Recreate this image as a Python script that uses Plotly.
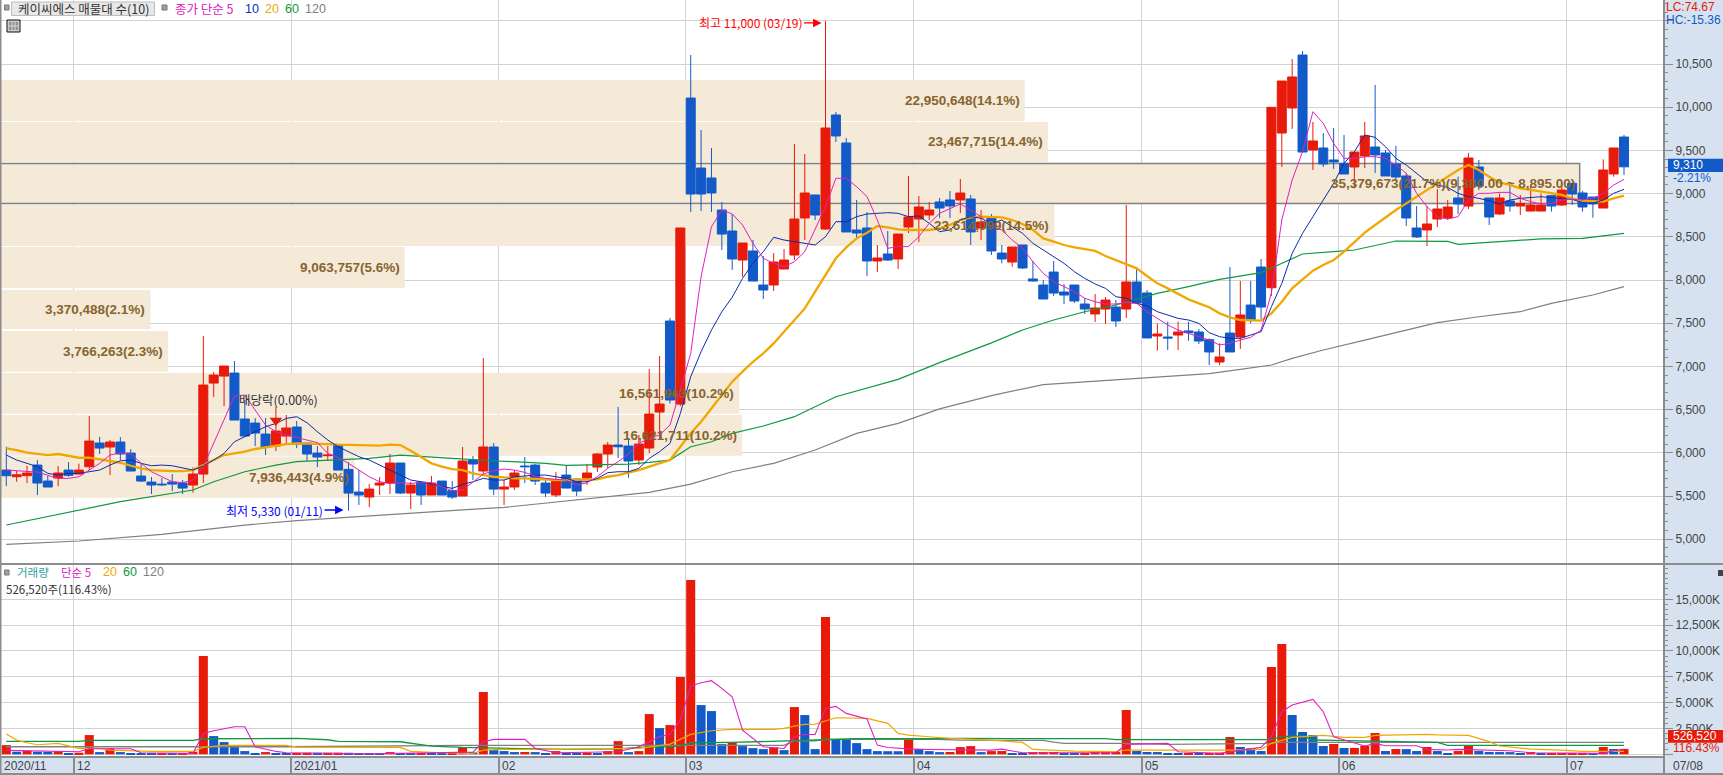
import plotly.graph_objects as go

W, H = 1723, 775
PLOT_R, PANE_SPLIT, PANE_BOTTOM = 1663, 564, 756

open_ = [5800,5723,5735,5858,5673,5708,5800,5754,5839,6113,
 6067,6125,5997,5731,5661,5638,5661,5650,5627,5754,
 6807,6888,6923,6391,6344,6217,6078,6194,6298,6113,
 5997,5966,6090,5808,5546,5488,5627,5650,5882,5534,
 5661,5511,5673,5561,5500,5916,5789,6067,5580,5604,
 5847,5858,5650,5511,5742,5696,5708,5835,5986,6090,
 6078,5916,6055,6472,7525,6564,10106,9296,9181,8810,
 8567,8231,8336,7942,7942,8127,8289,8718,8984,8590,
 9910,9586,8579,8602,8220,8301,8243,8613,8706,8752,
 8903,8926,8926,8938,8602,8729,8312,8208,8405,8012,
 7942,8092,7861,7942,7722,7607,7664,7687,7664,7977,
 7850,7352,7340,7363,7410,7398,7309,7051,7386,7340,
 7710,8150,7911,9701,9991,10604,9505,9528,9389,9350,
 9308,9435,9539,9470,9343,9204,8602,8579,8706,8718,
 8949,8856,9308,8949,8764,8914,8856,8798,8798,8976,
 8868,9119,9007,8960,8833,9227,9655]
high = [6070,5790,5850,5916,5731,5847,5893,5874,6425,6186,
 6148,6182,6044,5870,5719,5708,5754,5685,5831,7351,
 6935,7004,7062,6611,6402,6402,6530,6437,6368,6113,
 6078,6078,6101,5889,5800,5638,5719,5986,5882,5661,
 5661,5731,5673,5673,6067,5962,7097,6113,5685,5800,
 5951,5870,5696,5777,5858,5696,5870,5997,6125,6530,
 6171,6206,6970,7120,7560,8602,10604,9736,9528,8903,
 8764,8428,8463,8278,8312,8359,9574,9458,8984,11000,
 9944,9644,8926,8787,8405,8567,8532,9204,8972,8903,
 8949,9030,9169,8984,8810,8764,8405,8382,8405,8220,
 8000,8220,7953,7942,7792,7838,7803,7768,8868,8150,
 7884,7498,7518,7518,7518,7433,7325,7267,8150,7988,
 7988,8243,9998,10303,10558,10650,9829,9701,9759,9678,
 9481,9829,10257,9505,9551,9235,8856,8856,9053,8926,
 9196,9470,9389,8949,9003,9100,8984,9100,9003,8976,
 9119,9119,9030,8960,9396,9528,9680]
low = [5615,5665,5650,5511,5604,5615,5723,5754,5800,5986,
 5742,5916,5789,5661,5523,5615,5557,5523,5538,5650,
 6645,6541,6379,6194,6078,5974,6020,6090,6055,5905,
 5835,5905,5800,5330,5396,5372,5511,5523,5523,5349,
 5396,5511,5511,5465,5500,5685,5742,5511,5396,5569,
 5650,5627,5488,5488,5592,5500,5627,5777,5823,5940,
 5712,5858,5997,6148,6572,6541,8787,8799,8787,8347,
 8116,8038,7988,7780,7873,8127,8231,8463,8694,8579,
 9597,8556,8486,8046,8093,8220,8127,8544,8440,8694,
 8718,8718,8775,8405,8463,8289,8193,8154,8127,7980,
 7780,7815,7722,7734,7606,7514,7491,7456,7560,7722,
 7329,7182,7190,7190,7298,7259,7016,7016,7167,7201,
 7498,7549,7815,9308,9748,9481,9273,9308,9285,9227,
 9061,9296,9238,9204,9157,8625,8486,8393,8613,8694,
 8764,8822,9042,8636,8752,8791,8752,8798,8798,8791,
 8856,8868,8791,8721,8833,9196,9215]
close = [5735,5746,5766,5650,5604,5766,5739,5800,6136,6055,
 6125,5986,5789,5673,5627,5630,5638,5592,5754,6784,
 6900,7004,6379,6194,6229,6063,6252,6287,6101,5986,
 5951,5974,5800,5534,5511,5580,5650,5882,5534,5627,
 5511,5650,5511,5488,5905,5870,6067,5580,5604,5766,
 5839,5673,5534,5673,5592,5557,5766,5986,6090,6070,
 5905,6101,6448,6564,6611,8602,8995,8995,9007,8532,
 8243,8428,7988,7884,8208,8231,8706,9007,8752,9759,
 9667,8556,8544,8220,8255,8231,8532,8729,8845,8810,
 8833,8857,9007,8556,8671,8336,8243,8382,8139,7988,
 7780,7849,7826,7757,7664,7676,7768,7526,7977,7734,
 7329,7375,7329,7398,7390,7294,7167,7109,7167,7595,
 7537,7687,9998,10303,10350,9481,9609,9343,9366,9227,
 9481,9667,9447,9204,9192,8718,8498,8648,8822,8845,
 8880,9412,9088,8729,8949,8856,8887,8868,8868,8856,
 9041,8995,8845,8880,9273,9528,9310]

ma5 = [5800,5790,5780,5777,5740,5704,5704,5723,5800,5878,
 5974,6001,5993,5878,5781,5723,5665,5654,5685,5839,
 6109,6379,6657,6668,6495,6321,6244,6206,6178,6148,
 6117,5993,5947,5878,5800,5723,5665,5646,5654,5646,
 5654,5654,5608,5561,5569,5665,5754,5793,5812,5800,
 5773,5731,5704,5692,5685,5627,5654,5723,5820,5897,
 5986,6109,6167,6206,6321,6727,7151,8038,8617,8810,
 8764,8637,8424,8251,8193,8154,8212,8328,8579,8849,
 9177,9177,9080,8965,8695,8367,8386,8386,8502,8656,
 8772,8829,8880,8810,8733,8617,8579,8463,8367,8212,
 8077,7981,7923,7865,7788,7749,7722,7722,7738,7730,
 7633,7556,7479,7421,7383,7344,7305,7248,7267,7305,
 7336,7421,7850,8695,9157,9485,9948,9813,9582,9408,
 9408,9427,9427,9408,9331,9235,9003,8849,8733,8706,
 8733,8926,9003,9003,9014,9014,8945,8907,8880,8887,
 8926,8934,8926,8945,9003,9099,9165]
ma10 = [5974,5916,5878,5839,5762,5742,5762,5762,5781,5800,
 5858,5908,5916,5878,5850,5858,5850,5827,5800,5850,
 5916,5993,6128,6186,6244,6302,6340,6398,6418,6348,
 6244,6148,6070,6013,5955,5916,5858,5800,5742,5685,
 5665,5638,5615,5588,5635,5665,5704,5685,5685,5723,
 5731,5742,5742,5723,5704,5665,5665,5704,5770,5781,
 5781,5820,5935,6013,6109,6456,6881,7170,7421,7633,
 7800,8019,8193,8328,8494,8463,8444,8424,8405,8502,
 8675,8675,8733,8764,8772,8779,8772,8733,8741,8656,
 8559,8579,8695,8733,8714,8656,8694,8617,8540,8424,
 8347,8270,8193,8096,8019,7954,7903,7807,7788,7730,
 7699,7633,7595,7556,7537,7498,7390,7344,7325,7325,
 7363,7402,7691,7961,8308,8540,8733,8926,9119,9350,
 9485,9678,9651,9543,9408,9331,9234,9138,9100,9072,
 9003,8964,8945,8918,8880,8926,8945,8957,8964,8953,
 8945,8934,8895,8887,8926,9003,9049]
ma20 = [6051,6032,6001,5986,5974,5986,5963,5943,5943,5924,
 5905,5885,5850,5820,5800,5793,5789,5789,5800,5858,
 5916,5974,5993,6013,6044,6063,6090,6101,6109,6109,
 6101,6101,6094,6090,6090,6082,6082,6094,6090,6024,
 5955,5878,5839,5812,5800,5762,5742,5723,5716,5704,
 5704,5696,5692,5685,5685,5685,5685,5692,5723,5742,
 5770,5800,5839,5878,5916,6070,6225,6360,6514,6668,
 6823,6939,7054,7151,7266,7401,7536,7671,7865,8058,
 8251,8378,8482,8548,8625,8610,8586,8579,8579,8579,
 8598,8637,8695,8725,8733,8733,8725,8694,8648,8579,
 8482,8444,8405,8378,8355,8336,8278,8231,8185,8135,
 8046,7961,7903,7838,7776,7730,7684,7614,7568,7537,
 7529,7529,7614,7749,7903,8000,8108,8174,8231,8328,
 8444,8548,8636,8725,8810,8887,8964,9042,9119,9196,
 9273,9331,9273,9196,9126,9100,9061,9042,9022,9003,
 8984,8945,8914,8914,8907,8945,8976]
ma60_idx = [0,7,11,18,20,23,26,28,32,35,38,41,43,47,52,54,56,60,62,64,66,68,70,73,76,78,80,86,90,95,98,101,104,107,111,114,117,121,123,125,128,130,134,139,140,144,148,152,156]
ma60 = [5164,5338,5434,5569,5665,5781,5858,5897,5916,5935,5974,5955,5935,5908,5878,5854,5858,5870,5889,5916,6070,6128,6225,6310,6418,6534,6649,6850,7044,7272,7421,7537,7633,7711,7846,7923,8008,8085,8193,8301,8328,8347,8451,8447,8413,8440,8475,8482,8540]
ma120_idx = [0,7,15,23,28,35,44,48,55,62,66,70,74,78,82,86,90,95,100,105,111,116,119,122,124,127,131,135,138,142,146,149,153,156]
ma120 = [4941,4979,5057,5164,5215,5272,5340,5368,5453,5542,5638,5781,5878,6032,6225,6340,6509,6662,6789,6830,6878,6917,6966,7016,7093,7190,7305,7421,7506,7575,7633,7730,7826,7923]

volume = [890,245,343,245,240,310,117,150,1860,213,
 570,213,125,120,115,125,60,85,245,9514,
 1764,1182,730,310,117,213,117,110,150,155,
 150,155,160,150,60,55,50,213,60,55,
 60,55,50,55,665,213,6030,407,310,213,
 220,213,117,310,147,145,180,115,308,1277,
 211,308,3893,2537,2828,7479,16870,4765,4184,986,
 1180,793,599,502,663,405,4572,3797,502,13289,
 1471,1465,1083,502,308,300,295,1471,502,308,
 211,220,696,793,211,308,315,115,110,211,
 215,220,82,80,85,211,215,220,4285,315,
 220,215,125,120,125,85,90,150,1672,704,
 575,315,8448,10675,3802,2156,1866,801,995,607,
 620,830,2060,315,510,500,315,704,315,120,
 315,801,315,220,215,210,120,220,100,110,
 115,120,125,110,704,510,526.5]
vol5_idx = [0,7,8,12,13,18,19,20,22,23,24,26,27,35,45,46,47,50,51,53,59,61,63,64,65,66,67,68,69,70,71,72,73,74,75,76,77,78,79,80,81,83,84,85,87,89,95,96,97,98,107,108,112,113,117,121,122,123,124,126,127,128,131,132,133,136,137,139,140,145,147,154,155,156]
vol5 = [375,245,537,537,150,85,2022,2280,2668,2668,730,278,150,52,213,1215,1440,1440,570,150,244,728,1697,1955,3312,6607,6930,7124,6380,5573,2343,1535,728,631,566,1697,1923,1923,4443,4636,3958,3409,890,663,520,470,405,502,308,146,155,962,1059,253,90,671,1704,4125,4770,5318,4125,1704,801,1059,833,833,478,413,478,349,155,90,349,478]
vol20_idx = [0,1,2,3,5,6,7,9,10,14,18,19,21,27,28,38,39,42,45,46,48,52,59,61,64,65,66,68,70,74,75,76,77,78,80,83,85,86,87,89,91,95,97,98,99,103,107,108,118,121,122,124,127,129,131,132,137,138,141,143,144,147,150,152,156]
vol20 = [1957,1376,1118,924,1053,795,570,570,407,278,278,665,859,859,700,665,278,150,85,407,472,472,502,566,986,1439,1923,2278,2408,2408,2504,2731,2892,2924,3538,3474,2989,2020,1859,1697,1535,1374,1212,1148,470,315,253,413,413,478,1059,1640,1834,1640,1640,1834,1931,1880,1834,1220,801,510,413,285,285]
vol60_idx = [0,7,8,18,19,28,31,32,38,40,41,44,51,54,59,61,65,66,70,82,89,92,106,107,122,123,125,126,128,136,138,139,153,154,156]
vol60 = [1247,1247,1344,1344,1505,1538,1408,1247,1214,892,795,665,536,470,534,663,792,1116,1148,1503,1503,1535,1510,1414,1414,1704,1769,1382,1350,1156,1156,866,833,801,866]
vol120_idx = [0,27,44,53,75,76,78,79,89,92,100,101,102,108,112,122,123,156]
vol120 = [730,730,860,860,857,1309,1309,1439,1471,1374,1342,1180,1059,1051,962,1059,1156,1156]

profile_volume = [22950648,23467715,35379673,23614099,9063757,3370488,3766263,16561963,16621711,7936443]
profile_high = [10315,9829,9347,8868,8382,7884,7410,6924,6438,5957]
profile_low = [9840,9366,8885,8394,7907,7433,6939,6453,5967,5480]
profile_labels = ["22,950,648(14.1%)","23,467,715(14.4%)","35,379,673(21.7%)(9,380.00 ~ 8,895.00)","23,614,099(14.5%)","9,063,757(5.6%)","3,370,488(2.1%)","3,766,263(2.3%)","16,561,963(10.2%)","16,621,711(10.2%)","7,936,443(4.9%)"]
current_band = 2

month_start = [7,28,48,66,88,110,129,151]
month_labels = ["12","2021/01","02","03","04","05","06","07"]
price_ticks = [5000,5500,6000,6500,7000,7500,8000,8500,9000,9500,10000,10500,11000]
price_ticktext = ["5,000","5,500","6,000","6,500","7,000","7,500","8,000","8,500","9,000","9,500","10,000","10,500",""]
vol_ticks = [0,2500,5000,7500,10000,12500,15000]
vol_ticktext = ["","2,500K","5,000K","7,500K","10,000K","12,500K","15,000K"]

RED, BLUE = "#e81a0a", "#125ac8"
MAGENTA, NAVY, ORANGE, GREEN, GREY = "#e020c0", "#0c2ca8", "#f0a800", "#0c9a40", "#808080"
BEIGE, BAND, GRID, AXIS = "#f5e9d8", "#d6e2f0", "#d2d2d2", "#8c8c8c"
TXT = "#444444"
LATIN = "Liberation Sans"
KR = "Noto Sans CJK KR"

n = len(close)
xs = list(range(n))
x_range = [-0.6075, 159.76]
grid_x = [m - 0.5 for m in month_start]

fig = go.Figure()

# volume profile on the base subplot
fig.add_trace(go.Bar(
    orientation="h", xaxis="x", yaxis="y",
    x=profile_volume,
    y=[(a + b) / 2 for a, b in zip(profile_high, profile_low)],
    width=[a - b for a, b in zip(profile_high, profile_low)],
    marker=dict(color=BEIGE,
                line=dict(color=[GREY if i == current_band else BEIGE for i in range(len(profile_volume))],
                          width=[1.5 if i == current_band else 0 for i in range(len(profile_volume))])),
    hoverinfo="skip"))

# moving averages under the candles
for xv, yv, c, w in [(ma120_idx, ma120, GREY, 1.2), (ma60_idx, ma60, GREEN, 1.2),
                     (xs, ma20, ORANGE, 2.3), (xs, ma10, NAVY, 1), (xs, ma5, MAGENTA, 1)]:
    fig.add_trace(go.Scatter(x=xv, y=yv, mode="lines", line=dict(color=c, width=w),
                             xaxis="x3", yaxis="y", hoverinfo="skip"))

fig.add_trace(go.Candlestick(
    x=xs, open=open_, high=high, low=low, close=close, xaxis="x3", yaxis="y",
    increasing=dict(line=dict(color=RED, width=1), fillcolor=RED),
    decreasing=dict(line=dict(color=BLUE, width=1), fillcolor=BLUE),
    whiskerwidth=0, hoverinfo="skip"))

# ex-dividend marker
fig.add_trace(go.Scatter(x=[26], y=[6375], mode="markers", xaxis="x3", yaxis="y",
                         marker=dict(symbol="triangle-down", color=RED, size=11), hoverinfo="skip"))

# volume pane
vol_colors = [RED if i == 0 or volume[i] >= volume[i - 1] else BLUE for i in range(n)]
fig.add_trace(go.Bar(x=xs, y=volume, width=0.87, marker=dict(color=vol_colors, line=dict(width=0)),
                     xaxis="x2", yaxis="y2", hoverinfo="skip"))
for xv, yv, c, w in [(vol120_idx, vol120, GREY, 1.3), (vol60_idx, vol60, GREEN, 1.3),
                     (vol20_idx, vol20, ORANGE, 1.2), (vol5_idx, vol5, MAGENTA, 1.1)]:
    fig.add_trace(go.Scatter(x=xv, y=yv, mode="lines", line=dict(color=c, width=w),
                             xaxis="x2", yaxis="y2", hoverinfo="skip"))


def px(x):
    return x / W


def py(y):
    return 1 - y / H


ann = []


def label(x, y, text, color=TXT, size=12, anchor="left", family=KR, bg=None):
    d = dict(x=px(x), y=py(y), xref="paper", yref="paper", text=text, showarrow=False,
             xanchor=anchor, yanchor="middle", font=dict(family=family, size=size, color=color),
             borderpad=0)
    if bg:
        d["bgcolor"] = bg
    ann.append(d)


# profile labels
for v, h_, l_, t in zip(profile_volume, profile_high, profile_low, profile_labels):
    ann.append(dict(x=v, y=(h_ + l_) / 2, xref="x", yref="y", text=t, showarrow=False,
                    xanchor="right", yanchor="middle", xshift=-3,
                    font=dict(family=LATIN, size=13.5, color="#86642f", weight="bold")))

# extreme labels
ann.append(dict(x=79, y=10975, xref="x3", yref="y", text="최고 11,000 (03/19)", showarrow=True,
                ax=-75, ay=0, axref="pixel", ayref="pixel", arrowcolor="#ff0000", arrowwidth=1.3,
                arrowhead=2, arrowsize=1.3, standoff=4,
                font=dict(family=KR, size=12, color="#ff0000")))
ann.append(dict(x=33, y=5338, xref="x3", yref="y", text="최저 5,330 (01/11)", showarrow=True,
                ax=-74, ay=0, axref="pixel", ayref="pixel", arrowcolor="#0000ff", arrowwidth=1.3,
                arrowhead=2, arrowsize=1.3, standoff=5,
                font=dict(family=KR, size=12, color="#0000ff")))
label(238, 399, "배당락(0.00%)", "#333333", 12.5)

# top legend
label(17, 9, "케이씨에스 매물대 수(10)", "#333333", 12.5)
label(174, 9, "종가 단순 5", MAGENTA, 12.5)
label(244, 9, "10", "#0c2cc0", 12.5, family=LATIN)
label(264, 9, "20", ORANGE, 12.5, family=LATIN)
label(284, 9, "60", GREEN, 12.5, family=LATIN)
label(304, 9, "120", GREY, 12.5, family=LATIN)

# volume legend
label(16, 572, "거래량", "#30a0a0", 11.5)
label(60, 572, "단순 5", MAGENTA, 11.5)
label(102, 572, "20", ORANGE, 12.5, family=LATIN)
label(122, 572, "60", GREEN, 12.5, family=LATIN)
label(142, 572, "120", GREY, 12.5, family=LATIN)
label(5, 589, "526,520주(116.43%)", "#333333", 11.5)

# right panel
label(1665, 7, "LC:74.67", "#e81a0a", 12, family=LATIN)
label(1665, 20, "HC:-15.36", BLUE, 12, family=LATIN)
label(1672, 165, "9,310", "#ffffff", 12, family=LATIN)
label(1672, 178, "-2.21%", BLUE, 12, family=LATIN)
label(1672, 736, "526,520", "#ffffff", 12, family=LATIN)
label(1672, 748, "116.43%", RED, 12, family=LATIN)

# month labels
ann.append(dict(x=x_range[0], y=py(765.5), xref="x2", yref="paper", text="2020/11", showarrow=False,
                xanchor="left", yanchor="middle", xshift=2, font=dict(family=LATIN, size=12, color=TXT)))
for m, t in zip(grid_x, month_labels):
    ann.append(dict(x=m, y=py(765.5), xref="x2", yref="paper", text=t, showarrow=False,
                    xanchor="left", yanchor="middle", xshift=1, font=dict(family=LATIN, size=12, color=TXT)))
label(1672, 765.5, "07/08", TXT, 12, family=LATIN)

shapes = []


def rect(x0, y0, x1, y1, fill=None, line=None, lw=1):
    shapes.append(dict(type="rect", xref="paper", yref="paper", x0=px(x0), x1=px(x1), y0=py(y0), y1=py(y1),
                       fillcolor=fill, line=dict(color=line or "rgba(0,0,0,0)", width=lw if line else 0),
                       layer="above"))


def hline(x0, x1, y, color=AXIS, w=2):
    shapes.append(dict(type="line", xref="paper", yref="paper", x0=px(x0), x1=px(x1), y0=py(y), y1=py(y),
                       line=dict(color=color, width=w), layer="above"))


def vline(x, y0, y1, color=AXIS, w=2):
    shapes.append(dict(type="line", xref="paper", yref="paper", x0=px(x), x1=px(x), y0=py(y0), y1=py(y1),
                       line=dict(color=color, width=w), layer="above"))


hline(0, W, PANE_SPLIT)
hline(0, W, 774)
vline(0.5, 0, 774)
vline(1664, 756, 774)
# legend chips
rect(11.5, 2, 154.5, 15.5, "#e8e8e8", "#bdbdbd")
rect(4.5, 5, 9, 10, "#a0a0a0", "#777777")
rect(162, 5, 167, 10, "#a0a0a0", "#777777")
rect(4.5, 570, 9, 575, "#a0a0a0", "#777777")
# table icon
rect(7, 20, 20, 32, "#cfcfcf", "#111111")
rect(9, 22, 18, 30, "#909090", None)
vline(12, 22, 30, "#dddddd", 1)
vline(15, 22, 30, "#dddddd", 1)
hline(9, 18, 26, "#dddddd", 1)
# last-value tags
rect(1668, 158.7, 1723, 172, BLUE)
rect(1668, 730, 1723, 742.7, RED)
rect(1718, 570, 1723, 576, "#444444")

fig.update_layout(
    width=W, height=H, margin=dict(l=0, r=0, t=0, b=0), autosize=False,
    paper_bgcolor=BAND, plot_bgcolor="#ffffff", showlegend=False, hovermode=False,
    boxgap=0.13, boxgroupgap=0, barmode="overlay", dragmode=False,
    annotations=ann, shapes=shapes,
    xaxis=dict(domain=[0, PLOT_R / W], range=[0, PLOT_R / 44.65e-6], anchor="y",
               showgrid=False, zeroline=False, showticklabels=False, ticks="", showline=False, fixedrange=True),
    xaxis3=dict(domain=[0, PLOT_R / W], range=x_range, overlaying="x", anchor="y",
                tickmode="array", tickvals=grid_x, showticklabels=False, ticks="",
                showgrid=True, gridcolor=GRID, gridwidth=1, zeroline=False, showline=False,
                rangeslider=dict(visible=False), fixedrange=True),
    xaxis2=dict(domain=[0, PLOT_R / W], range=x_range, anchor="y2",
                tickmode="array", tickvals=grid_x, showticklabels=False,
                ticks="outside", ticklen=18, tickcolor=AXIS, tickwidth=1.5,
                showgrid=True, gridcolor=GRID, gridwidth=1, zeroline=False,
                showline=True, linecolor=AXIS, linewidth=2, fixedrange=True),
    yaxis=dict(domain=[1 - PANE_SPLIT / H, 1], range=[10500 - (PANE_SPLIT - 64) * 11.574, 10500 + 64 * 11.574],
               anchor="x", side="right", tickmode="array", tickvals=price_ticks, ticktext=price_ticktext,
               showgrid=True, gridcolor=GRID, gridwidth=1, zeroline=False,
               showline=True, linecolor=AXIS, linewidth=2,
               ticks="outside", ticklen=8, tickcolor=AXIS, tickwidth=1,
               minor=dict(tickmode="linear", tick0=5000, dtick=100, ticks="outside", ticklen=3,
                          tickcolor=AXIS, tickwidth=1, showgrid=False),
               tickfont=dict(family=LATIN, size=12, color=TXT), fixedrange=True),
    yaxis2=dict(domain=[1 - PANE_BOTTOM / H, 1 - PANE_SPLIT / H], range=[-165, 18418],
                anchor="x2", side="right", tickmode="array", tickvals=vol_ticks, ticktext=vol_ticktext,
                showgrid=True, gridcolor=GRID, gridwidth=1, zeroline=False,
                showline=True, linecolor=AXIS, linewidth=2,
                ticks="outside", ticklen=8, tickcolor=AXIS, tickwidth=1,
                minor=dict(tickmode="linear", tick0=0, dtick=500, ticks="outside", ticklen=3,
                           tickcolor=AXIS, tickwidth=1, showgrid=False),
                tickfont=dict(family=LATIN, size=12, color=TXT), fixedrange=True),
)

fig.write_html("out.html", config=dict(displayModeBar=False, responsive=False),
               post_script="document.body.style.margin='0';document.body.style.overflow='hidden';")
